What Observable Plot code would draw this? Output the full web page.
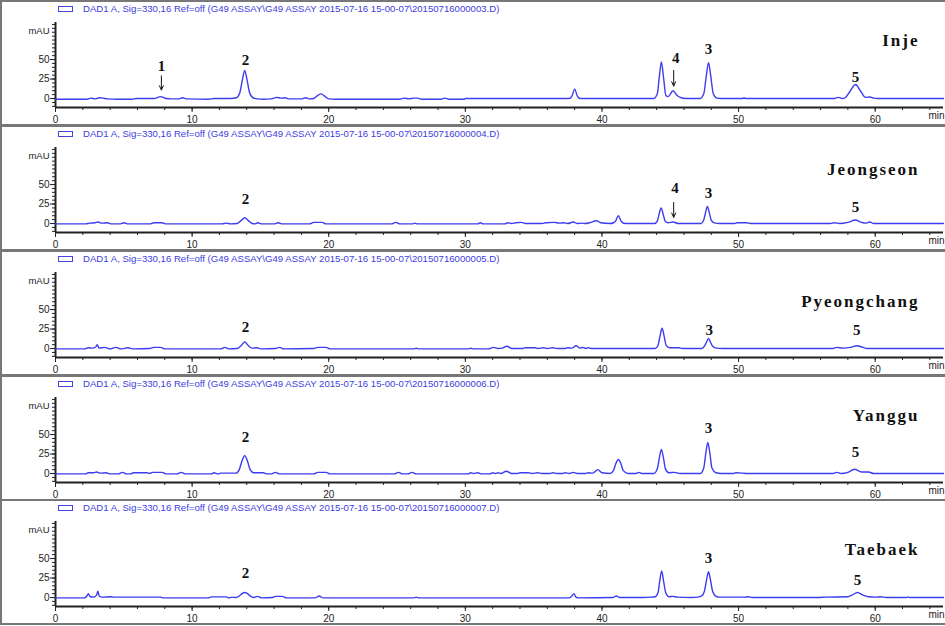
<!DOCTYPE html>
<html>
<head>
<meta charset="utf-8">
<script src="https://cdn.jsdelivr.net/npm/d3@7"></script>
<script src="https://cdn.jsdelivr.net/npm/@observablehq/plot@0.6"></script>
<style>
  html, body { margin: 0; padding: 0; background: #fff; }
  #wrap { position: relative; width: 945px; height: 626px; overflow: hidden; background: #fff; }
  .panel { position: absolute; left: 0; width: 945px; height: 125px; overflow: hidden; }
  .frame { position: absolute; left: 0; width: 947px; height: 126px; box-sizing: border-box;
           border: 2px solid #777; border-right: none; pointer-events: none; }
  .icon { position: absolute; left: 58px; top: 6px; width: 15px; height: 6px; box-sizing: border-box;
          border: 1px solid #4444e0; background: #fff; }
  .hdr { position: absolute; left: 83px; top: 3px; line-height: 12px; font-size: 9.6px; white-space: nowrap;
         font-family: "Liberation Sans", Arial, sans-serif; color: #4040e0; }
  .panel svg { position: absolute; left: 0; top: 0; }
</style>
</head>
<body>
<div id="wrap"></div>
<script>
// ---------- data (retention time in min, signal in mAU) ----------
const sampleNames = ["Inje", "Jeongseon", "Pyeongchang", "Yanggu", "Taebaek"];
const fileNumbers = ["20150716000003.D", "20150716000004.D", "20150716000005.D", "20150716000006.D", "20150716000007.D"];
const headerPrefix = "DAD1 A, Sig=330,16 Ref=off (G49 ASSAY\\G49 ASSAY 2015-07-16 15-00-07\\";

const xTickLabels = [0, 10, 20, 30, 40, 50, 60];
const yTickLabels = [0, 25, 50];

const injeTrace = [[0,-1],[2.3,-1],[2.6,0.5],[2.9,-0.5],[3.2,1],[3.5,0.5],[3.8,-0.5],[4.5,-1],[5.6,-1],[5.9,0],[7.2,0],[7.7,2.5],[8.1,0],[8.4,-0.5],[9.0,-0.5],[9.3,1],[9.6,-0.5],[11.2,-1],[11.6,0],[12.8,0],[13.25,1],[13.5,8],[13.68,24],[13.85,36],[14.02,24],[14.2,8],[14.45,1],[14.8,-0.5],[15.2,-1],[15.8,-0.5],[16.2,1.5],[16.5,0.5],[16.8,1],[17.1,-0.5],[18.0,-0.5],[18.3,1],[18.6,-0.5],[18.9,0],[19.2,4],[19.45,6],[19.7,3],[20.0,-0.5],[20.5,-1],[25.2,-1],[25.5,0.5],[25.9,-0.5],[26.2,0.5],[26.5,0.5],[26.8,-1],[28.2,-1],[28.5,0.5],[28.8,-1],[29.9,-1],[30.0,0],[37.6,0],[37.8,3],[38.0,12],[38.2,3],[38.4,0],[43.8,0],[44.05,6],[44.2,28],[44.35,47],[44.5,28],[44.68,4],[44.85,2.5],[45.2,10],[45.5,4],[45.8,1],[46.1,0],[47.2,0],[47.45,6],[47.63,28],[47.8,46],[47.97,28],[48.15,6],[48.4,0.5],[48.7,0],[50.3,0],[50.4,1],[50.5,0],[57.0,0],[57.3,1.5],[57.6,0],[57.8,1],[58.15,9],[58.55,18],[58.95,9],[59.3,1.5],[59.6,2],[59.9,0.5],[60.2,0],[65,0]];

const jeongseonTrace = [[0,-0.5],[2.2,-0.5],[2.5,0.5],[2.9,1],[3.1,2],[3.4,0.5],[3.8,1],[4.1,-0.5],[4.7,-0.5],[5.0,1],[5.3,-0.5],[6.9,-0.5],[7.2,1],[7.8,1],[8.1,-0.5],[12.2,-0.5],[12.5,0.5],[12.8,-0.5],[13.3,0],[13.6,4],[13.85,7.5],[14.1,4],[14.4,0],[14.6,-0.5],[14.8,1],[15.1,-0.5],[16.0,-0.5],[16.3,1],[16.6,-0.5],[18.6,-0.5],[18.9,1.5],[19.5,1.5],[19.8,-0.5],[24.6,-0.5],[24.9,1.5],[25.2,-0.5],[26.1,-0.5],[26.3,0.5],[26.5,-0.5],[30.9,-0.5],[31.1,1],[31.3,-0.5],[32.9,-0.5],[33.1,1],[33.4,0],[33.7,1],[34.1,1.5],[34.4,0],[35.6,0],[35.9,1],[36.5,1.5],[36.9,0.5],[37.2,1],[37.5,0],[37.9,2],[38.2,0],[38.5,0.5],[38.8,0],[39.1,1],[39.6,3.5],[39.9,1],[40.6,0],[40.85,1],[41.0,3],[41.2,10],[41.4,3],[41.7,0],[43.85,0],[44.05,3],[44.18,12],[44.33,20],[44.48,12],[44.63,3],[44.85,1],[45.2,2],[45.6,0],[47.25,0],[47.43,3.5],[47.57,13],[47.72,22],[47.87,13],[48.02,3.5],[48.3,0.5],[48.6,0],[49.7,0],[49.9,1],[50.6,1],[50.9,0],[56.7,0],[57.0,1],[57.4,0],[58.0,1.5],[58.55,4.5],[59.0,1.5],[59.3,0.5],[59.6,2],[59.9,0],[65,0]];

const pyeongchangTrace = [[0,-0.5],[2.1,-0.5],[2.4,1],[2.7,0.5],[2.95,2],[3.05,5],[3.2,0.5],[3.6,1.5],[4.0,-0.5],[4.4,1.5],[4.8,-0.5],[5.3,1],[5.7,-0.5],[6.9,0],[7.2,1.5],[7.7,1.5],[8.0,-0.5],[12.1,-0.5],[12.4,1.5],[12.7,-0.5],[13.3,0],[13.55,3],[13.7,6],[13.85,8.5],[14.0,6],[14.15,3],[14.4,0.5],[14.7,1],[15.1,-0.5],[16.1,0],[16.4,1.5],[16.7,-0.5],[18.9,0],[19.2,1.5],[19.8,1.5],[20.1,-0.5],[26.2,-0.5],[26.4,0.3],[26.6,-0.5],[30.2,-0.5],[30.4,0.3],[30.6,-0.5],[31.7,-0.5],[32.05,1.5],[32.4,0],[32.7,0.5],[33.05,3],[33.4,0],[34.2,0],[34.4,1],[35.1,1],[35.3,0],[35.7,1],[36.0,0],[36.4,1],[36.7,0],[37.3,0],[37.5,1],[37.8,0.5],[38.1,3.5],[38.4,0.5],[38.6,1.5],[38.8,0],[39.0,1],[39.2,0],[43.9,0],[44.1,4],[44.25,16],[44.4,26],[44.55,16],[44.7,4],[44.95,1],[45.6,1],[45.9,0],[47.3,0],[47.5,3],[47.65,8],[47.8,13],[47.95,8],[48.1,3],[48.4,0.5],[48.8,0],[56.9,0],[57.2,1.5],[57.6,0.5],[58.2,1.5],[58.65,3.5],[59.1,1.5],[59.4,0],[65,0]];

const yangguTrace = [[0,-0.5],[2.2,-0.5],[2.4,1],[2.8,1],[3.0,2],[3.3,0.5],[3.7,1],[4.0,-0.5],[4.6,-0.5],[4.9,1.5],[5.2,-0.5],[5.5,-0.5],[5.7,1],[6.7,1],[6.9,0],[7.1,1.5],[7.8,1.5],[8.1,-0.5],[8.9,-0.5],[9.2,1.5],[9.5,-0.5],[11.4,-0.5],[11.6,1],[11.9,-0.5],[12.1,0.5],[13.2,0.5],[13.45,5],[13.65,16],[13.85,23],[14.05,16],[14.25,5],[14.5,1],[15.2,1],[15.5,-0.5],[15.8,-0.5],[16.1,1.5],[16.4,-0.5],[18.9,-0.5],[19.2,1.5],[19.8,1.5],[20.1,-0.5],[24.8,-0.5],[25.1,1.5],[25.4,-0.5],[25.8,-0.5],[26.1,1.5],[26.4,-0.5],[30.2,-0.5],[30.4,1],[30.6,0],[30.9,1],[31.2,-0.5],[31.8,-0.5],[32.0,1],[32.2,0],[32.4,1],[32.6,0],[33.0,3],[33.4,0],[33.8,0],[34.0,1],[34.6,1],[34.9,0],[35.3,1],[35.6,0],[36.2,0],[36.4,1],[36.7,0],[37.1,0],[37.3,1],[37.6,0],[37.9,1.5],[38.2,0],[38.8,0],[39.0,1],[39.3,0.5],[39.7,5],[40.0,1],[40.6,0],[40.85,4],[41.0,12],[41.2,18],[41.4,12],[41.55,4],[41.9,0],[42.5,0],[42.7,1.5],[42.9,0],[43.8,0],[44.05,6],[44.2,20],[44.35,31],[44.5,20],[44.65,6],[44.9,1],[45.3,1.5],[45.7,0],[47.2,0],[47.45,7],[47.6,26],[47.75,40],[47.9,26],[48.05,7],[48.35,1],[48.7,0],[49.6,0],[49.8,1],[50.3,0.5],[50.6,0],[56.9,0],[57.2,1.5],[57.5,0],[58.0,1.5],[58.5,5.5],[59.0,2],[59.5,2],[59.9,0],[65,0]];

const taebaekTrace = [[0,-0.5],[2.1,-0.5],[2.3,2],[2.4,5],[2.55,1],[2.8,0.5],[3.0,3],[3.1,8],[3.2,2],[3.4,0.5],[4.0,1],[4.3,0.5],[7.7,0.5],[7.9,-0.5],[11.2,-0.5],[11.4,0.8],[12.5,0.8],[12.7,-0.5],[12.9,0.5],[13.2,0],[13.45,2],[13.65,5],[13.85,6.5],[14.05,5],[14.3,1.5],[14.5,0],[14.8,1.5],[15.1,-0.5],[15.9,0],[16.1,1.5],[16.6,1.5],[16.9,-0.5],[19.0,-0.5],[19.3,2],[19.6,-0.5],[26.2,-0.5],[26.4,0.5],[26.6,-0.5],[37.6,-0.5],[37.8,2],[37.95,5],[38.1,0.5],[38.3,-0.5],[40.8,0],[41.05,2],[41.3,0],[43.0,0],[43.6,0.5],[43.9,1],[44.1,6],[44.22,20],[44.37,34],[44.52,20],[44.67,6],[44.9,1],[45.2,1.5],[45.5,0.5],[46.6,0],[47.0,0.5],[47.3,2],[47.5,8],[47.65,22],[47.8,33],[47.95,22],[48.1,8],[48.35,1.5],[48.6,0.5],[50.4,0.5],[50.7,1],[51.0,0],[55.8,0],[56.4,0.5],[58.0,1],[58.3,3],[58.7,6.5],[59.1,3],[59.5,1],[60.0,0.5],[60.4,1],[60.8,0],[62.3,0],[62.4,0.8],[62.5,0],[65,0]];

// peak number annotations: [time, mAU height of label, label]
const injePeaks = [[7.75,42,"1"],[13.9,49,"2"],[45.4,52,"4"],[47.8,63,"3"],[58.55,28,"5"]];
const jeongseonPeaks = [[13.9,31,"2"],[45.35,45,"4"],[47.8,38.5,"3"],[58.55,20.5,"5"]];
const pyeongchangPeaks = [[13.9,27,"2"],[47.85,24,"3"],[58.65,24,"5"]];
const yangguPeaks = [[13.9,46,"2"],[47.8,58,"3"],[58.55,27,"5"]];
const taebaekPeaks = [[13.9,31,"2"],[47.8,50,"3"],[58.7,22,"5"]];

// arrows: [time, from mAU, to mAU]
const injeArrows = [[7.75,29,11],[45.25,36,16]];
const jeongseonArrows = [[45.25,27,8]];

const traces = [injeTrace, jeongseonTrace, pyeongchangTrace, yangguTrace, taebaekTrace];
const peaks = [injePeaks, jeongseonPeaks, pyeongchangPeaks, yangguPeaks, taebaekPeaks];
const arrows = [injeArrows, jeongseonArrows, [], [], []];

// ---------- layout ----------
const panelTops = [0, 125, 250, 375, 499];
const nameDy = [11, 15, 22, 11, 21];
const yDomain = [-11.5, 97.5];
const xDomain = [0, 65];
const lineColor = "#3c3cf0";
const axisColor = "#222";

const wrap = document.getElementById("wrap");

sampleNames.forEach((name, i) => {
  const panel = document.createElement("div");
  panel.className = "panel";
  panel.style.top = panelTops[i] + "px";

  const chart = Plot.plot({
    width: 945,
    height: 125,
    marginLeft: 55,
    marginRight: 2,
    marginTop: 22,
    marginBottom: 18,
    x: {domain: xDomain},
    y: {domain: yDomain},
    style: {fontFamily: "'Liberation Sans', Arial, sans-serif", background: "transparent", color: axisColor},
    marks: [
      // minor x ticks
      Plot.axisX({anchor: "bottom", ticks: d3.range(0, 65, 2), tickSize: 3, tickFormat: () => "", label: null, color: axisColor}),
      // major x ticks + labels
      Plot.axisX({anchor: "bottom", ticks: xTickLabels, tickSize: 5, tickPadding: 3, fontSize: 10, label: null, color: axisColor}),
      // minor y ticks
      Plot.axisY({anchor: "left", ticks: d3.range(-10, 96, 5), tickSize: 3, tickFormat: () => "", label: null, color: axisColor}),
      // major y ticks + labels
      Plot.axisY({anchor: "left", ticks: yTickLabels, tickSize: 5, tickPadding: 1, fontSize: 10, label: null, color: axisColor}),
      Plot.ruleY([yDomain[0]], {stroke: axisColor, strokeWidth: 2}),
      Plot.ruleX([xDomain[0]], {stroke: axisColor, strokeWidth: 2}),
      Plot.text(["mAU"], {frameAnchor: "top-left", dx: -6, dy: 5, textAnchor: "end", fontSize: 9.5, fill: axisColor}),
      Plot.text(["min"], {frameAnchor: "bottom-right", dx: -15, dy: 11, textAnchor: "start", fontSize: 10, fill: axisColor}),
      Plot.line(traces[i], {x: d => d[0], y: d => d[1], stroke: lineColor, strokeWidth: 1.4, curve: "monotone-x"}),
      Plot.arrow(arrows[i], {x1: d => d[0], x2: d => d[0], y1: d => d[1], y2: d => d[2], stroke: "#111", strokeWidth: 1, headLength: 7, headAngle: 50}),
      Plot.text(peaks[i], {x: d => d[0], y: d => d[1], text: d => d[2], fontFamily: "'Liberation Serif', 'Times New Roman', serif", fontWeight: "bold", fontSize: 15, fill: "#111"}),
      Plot.text([name], {frameAnchor: "top-right", dx: -24, dy: nameDy[i], textAnchor: "end", fontFamily: "'Liberation Serif', 'Times New Roman', serif", fontWeight: "bold", fontSize: 17, fill: "#111"})
    ]
  });
  chart.querySelectorAll("text").forEach(t => {
    if (t.textContent === name) t.setAttribute("letter-spacing", "2");
  });
  panel.appendChild(chart);

  const icon = document.createElement("div");
  icon.className = "icon";
  panel.appendChild(icon);
  const hdr = document.createElement("div");
  hdr.className = "hdr";
  hdr.textContent = headerPrefix + fileNumbers[i] + ")";
  panel.appendChild(hdr);

  wrap.appendChild(panel);

  const frame = document.createElement("div");
  frame.className = "frame";
  frame.style.top = panelTops[i] + "px";
  wrap.appendChild(frame);
});
</script>
</body>
</html>
